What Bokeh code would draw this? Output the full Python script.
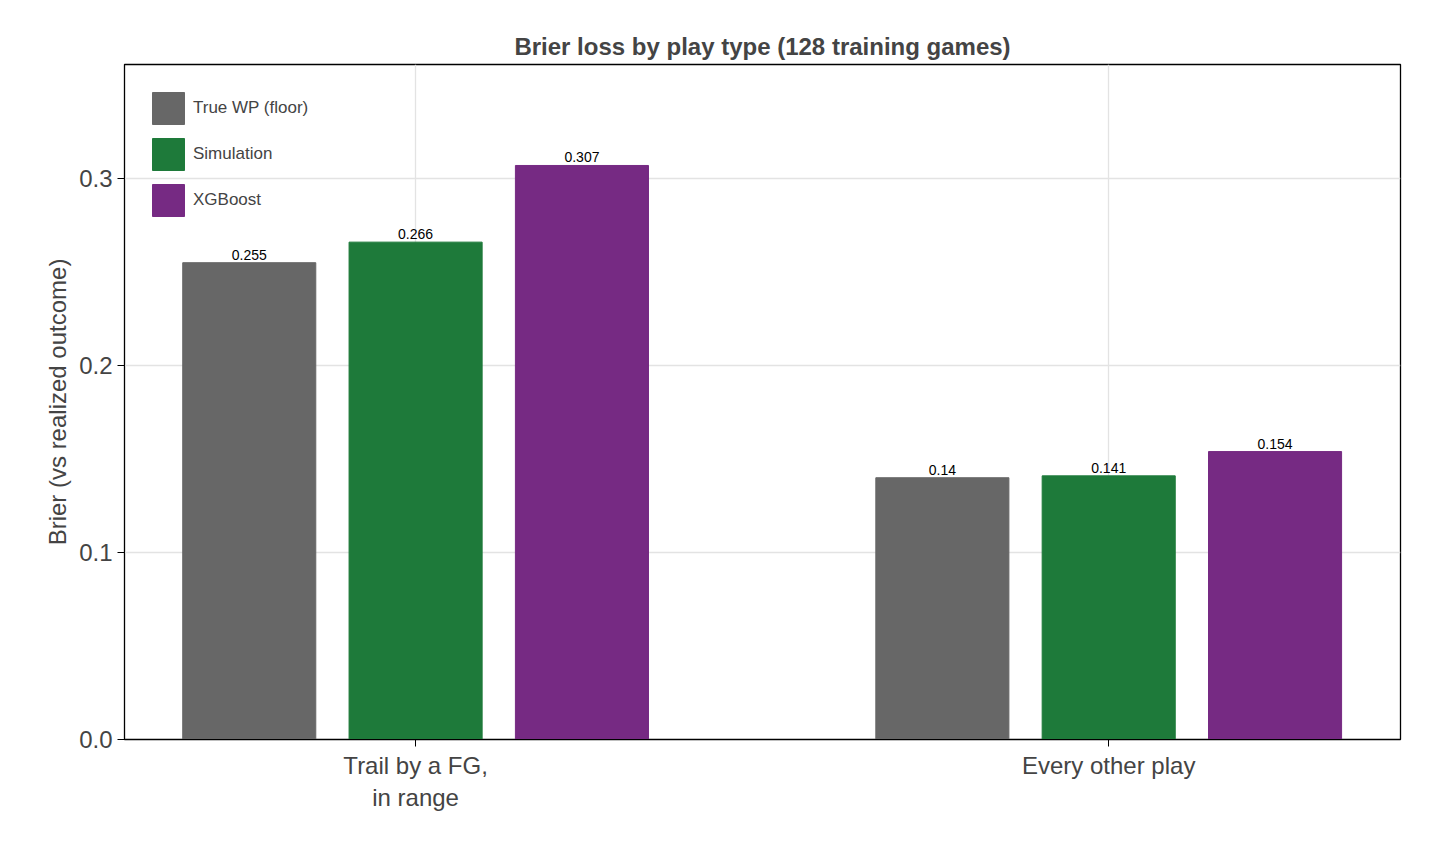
from bokeh.plotting import figure
from bokeh.models import ColumnDataSource, Range1d, FixedTicker, Legend, LegendItem
from bokeh.core.properties import value
from bokeh.embed import file_html
from bokeh.resources import INLINE

categories = ["Trail by a FG,\nin range", "Every other play"]
series = ["True WP (floor)", "Simulation", "XGBoost"]
colors = ["#676767", "#1e7a3a", "#762a83"]
values = {
    "True WP (floor)": [0.255, 0.140],
    "Simulation": [0.266, 0.141],
    "XGBoost": [0.307, 0.154],
}

p = figure(width=1424, height=844, output_backend="svg", toolbar_location=None,
           x_range=Range1d(0.58, 2.421), y_range=Range1d(0, 0.361),
           min_border_left=124, min_border_right=24, min_border_top=64, min_border_bottom=105)
p.title.text = "Brier loss by play type (128 training games)"
p.title.align = "center"
p.title.text_font = "Liberation Sans"
p.title.text_font_size = "18pt" if False else "24px"
p.title.text_font_style = "bold"
p.outline_line_color = "black"
p.outline_line_width = 1.3

offsets = [-0.24, 0.0, 0.24]
items = []
for s, c, o in zip(series, colors, offsets):
    xs = [i + 1 + o for i in range(len(categories))]
    src = ColumnDataSource(dict(x=xs, top=values[s], lab=[f"{v:g}" for v in values[s]]))
    r = p.vbar(x="x", top="top", width=0.192, color=c, source=src)
    p.text(x="x", y="top", text="lab", source=src, text_align="center", text_baseline="bottom",
           y_offset=-3, text_font_size="14px", text_font=value("Liberation Sans"), text_color="black")
    items.append(LegendItem(label=s, renderers=[r]))

leg = Legend(items=items, location="top_left", glyph_width=40, glyph_height=40,
             label_text_font_size="17px", label_text_font="Liberation Sans", spacing=6,
             background_fill_alpha=0, border_line_alpha=0, margin=16, padding=8)
p.add_layout(leg)

p.xaxis.ticker = FixedTicker(ticks=[1, 2])
p.xaxis.major_label_overrides = {1: categories[0], 2: categories[1]}
p.yaxis.ticker = FixedTicker(ticks=[0.0, 0.1, 0.2, 0.3])
p.yaxis.major_label_overrides = {0: "0.0", 0.1: "0.1", 0.2: "0.2", 0.3: "0.3"}
p.yaxis.axis_label = "Brier (vs realized outcome)"
for ax in (p.xaxis, p.yaxis):
    ax.major_label_text_font = "Liberation Sans"
    ax.major_label_text_font_size = "24px"
    ax.axis_label_text_font = "Liberation Sans"
    ax.axis_label_text_font_size = "24px"
    ax.axis_label_text_font_style = "normal"
    ax.minor_tick_line_color = None
    ax.major_tick_out = 7
    ax.major_tick_in = 0
    ax.axis_line_color = "black"
p.grid.grid_line_color = "#e3e3e3"
p.grid.grid_line_width = 1.3

open("out.html", "w").write(file_html(p, INLINE))
